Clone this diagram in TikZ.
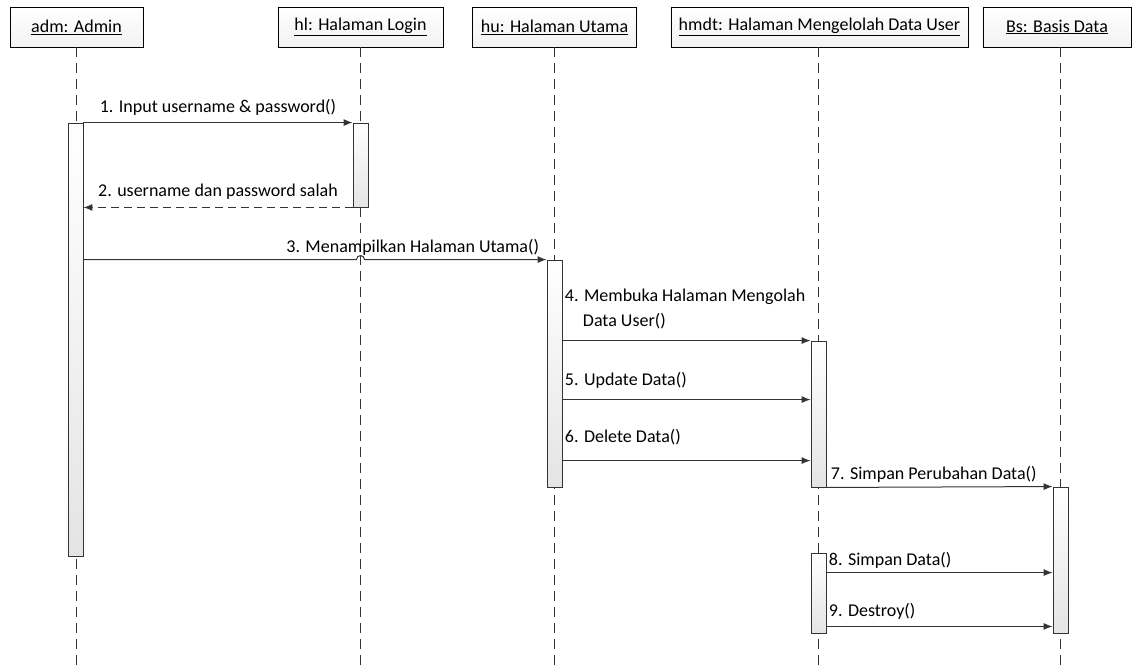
\documentclass[tikz,border=0pt]{standalone}
\usepackage{fontspec}
\setmainfont{Carlito}
\usetikzlibrary{positioning,arrows.meta,calc}
\definecolor{seqline}{HTML}{333333}
\definecolor{seqbar}{HTML}{E4E4E4}
\definecolor{seqbox}{HTML}{F2F2F2}
\tikzset{
  obj/.style    ={draw=black, top color=white, bottom color=seqbox, minimum height=40pt,
                  inner sep=0pt, font=\fontsize{18}{22}\selectfont},
  life/.style   ={draw=seqline, line width=1pt, dash pattern=on 10pt off 6pt},
  actbar/.style ={draw=seqline, line width=0.9pt, top color=white, bottom color=seqbar,
                  minimum width=15pt, inner sep=0pt},
  msg/.style    ={-{Latex[length=9pt,width=7pt]}, draw=seqline, line width=1pt},
  reply/.style  ={msg, dash pattern=on 8pt off 5pt},
  mlabel/.style ={font=\fontsize{18}{25}\selectfont, inner sep=2pt, text=black},
}

\begin{document}
\begin{tikzpicture}[x=1pt, y=-1pt]
  \useasboundingbox (0,0) rectangle (1133,665);

  % objects
  \node[obj, minimum width=133pt] (adm)  at (76.5,27)  {\underline{adm: Admin}};
  \node[obj, minimum width=165pt] (hl)   at (360.5,27) {\underline{hl: Halaman Login}};
  \node[obj, minimum width=164pt] (hu)   at (554.5,27) {\underline{hu: Halaman Utama}};
  \node[obj, minimum width=297pt] (hmdt) at (819.5,27) {\underline{hmdt: Halaman Mengelolah Data User}};
  \node[obj, minimum width=148pt] (bs)   at (1057,27)  {\underline{Bs: Basis Data}};

  % lifelines
  \coordinate (l1) at (76,665);
  \coordinate (l2) at (360.5,665);
  \coordinate (l3) at (554.5,665);
  \coordinate (l4) at (818.5,665);
  \coordinate (l5) at (1060.5,665);
  \draw[life] (adm.south -| l1) -- (l1);
  \draw[life] (hl.south -| l2) -- (l2);
  \draw[life] (hu.south -| l3) -- (l3);
  \draw[life] (hmdt.south -| l4) -- (l4);
  \draw[life] (bs.south -| l5) -- (l5);

  % activations
  \node[actbar, minimum height=433pt] (a1) at (75.5,339.5)  {};
  \node[actbar, minimum height=84pt]  (a2) at (360.5,165)   {};
  \node[actbar, minimum height=227pt] (a3) at (554.5,373.5) {};
  \node[actbar, minimum height=146pt] (a4) at (818.5,414)   {};
  \node[actbar, minimum height=146pt] (a5) at (1060.5,560)  {};
  \node[actbar, minimum height=80pt]  (a6) at (818.5,593)   {};

  % messages
  \draw[msg] (a1.east |- a2.north) -- (a2.north west)
    node[mlabel, midway, above=5pt] {1. Input username \& password()};
  \draw[reply] (a2.south west) -- (a1.east |- a2.south)
    node[mlabel, midway, above=6pt] {2. username dan password salah};
  \draw[msg] (a1.east |- a3.north) -- ($(l2 |- a3.north)+(-4,0)$)
    arc[start angle=180, end angle=360, radius=4] -- (a3.north west)
    node[mlabel, pos=1, above left=2pt and 5pt] {3. Menampilkan Halaman Utama()};
  \draw[msg] (a3.east |- a4.north) -- (a4.north west)
    node[mlabel, pos=0, above right=9pt and 0pt, align=left]
    {4. Membuka Halaman Mengolah\\\hspace*{18pt}Data User()};
  \draw[msg] ($(a3.east |- a4.north)+(0,59)$) -- ($(a4.north west)+(0,59)$)
    node[mlabel, pos=0, above right=9pt and 0pt] {5. Update Data()};
  \draw[msg] ($(a3.east |- a4.north)+(0,120)$) -- ($(a4.north west)+(0,120)$)
    node[mlabel, pos=0, above right=13pt and 0pt] {6. Delete Data()};
  \draw[msg] (a4.south east) -- (a5.north west)
    node[mlabel, pos=0, above right=3pt and 2pt] {7. Simpan Perubahan Data()};
  \draw[msg] ($(a6.north east)+(0,20)$) -- ($(a5.west |- a6.north)+(0,20)$)
    node[mlabel, pos=0, above right=2pt and 0pt] {8. Simpan Data()};
  \draw[msg] ($(a6.south east)+(0,-7)$) -- ($(a5.south west)+(0,-7)$)
    node[mlabel, pos=0, above right=5pt and 0pt] {9. Destroy()};

\end{tikzpicture}
\end{document}
